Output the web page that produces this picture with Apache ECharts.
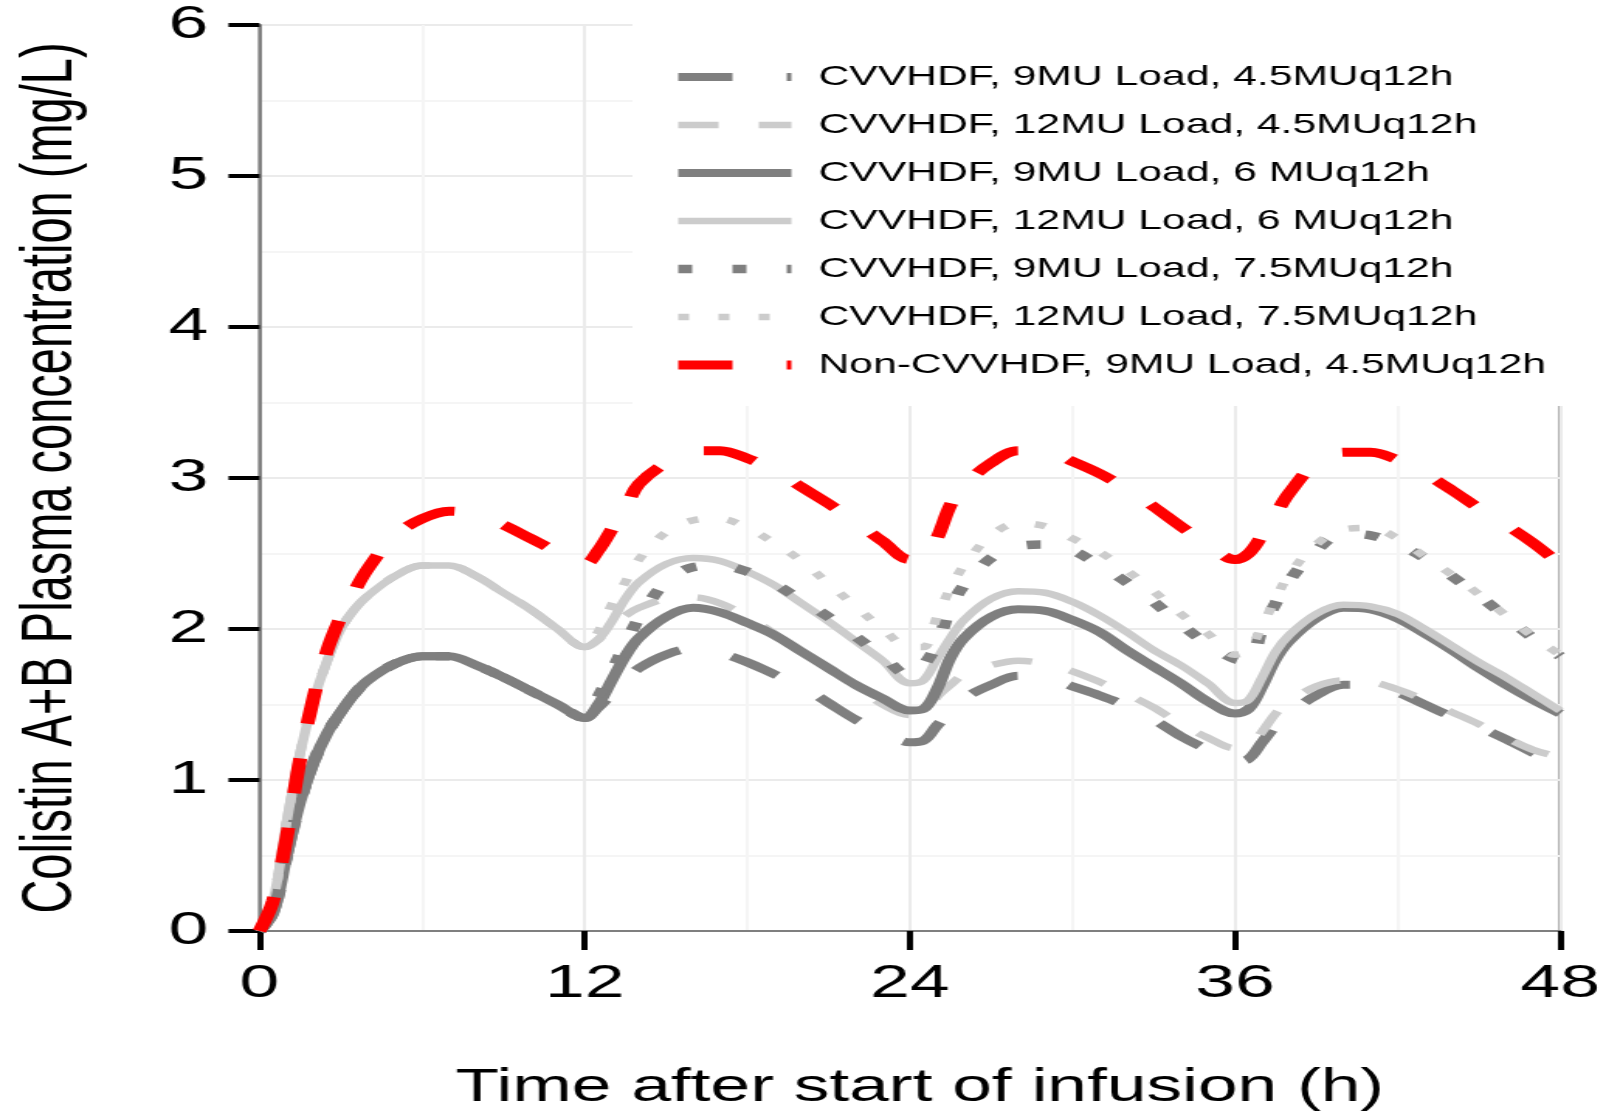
<!DOCTYPE html>
<html>
<head>
<meta charset="utf-8">
<script src="https://cdn.jsdelivr.net/npm/echarts@6/dist/echarts.min.js"></script>
<style>
  html, body { margin: 0; padding: 0; background: #fff; overflow: hidden; }
  /* the original figure is stretched sideways, so draw narrow and widen it */
  #chart { width: 1036px; height: 1116px; transform: scaleX(1.5502); transform-origin: 0 0; }
</style>
</head>
<body>
<div id="chart"></div>
<script>
// time points (h)
const hours = [0, 0.5, 1, 1.5, 2, 2.5, 3, 3.5, 4, 5, 6, 7, 8, 9, 10, 11, 12,
  12.5, 13, 13.5, 14, 15, 16, 17, 18, 19, 20, 21, 22, 23, 24,
  24.5, 25, 25.5, 26, 27, 28, 29, 30, 31, 32, 33, 34, 35, 36,
  36.5, 37, 37.5, 38, 39, 40, 41, 42, 43, 44, 45, 46, 47, 48];

// first 12 h (loading dose), shared by the regimens with the same load
const load9MU  = [0, 0.12, 0.5, 0.86, 1.12, 1.31, 1.45, 1.57, 1.66, 1.77, 1.82, 1.82, 1.76, 1.68, 1.59, 1.50, 1.41];
const load12MU = [0, 0.2, 0.72, 1.18, 1.53, 1.79, 2.0, 2.13, 2.22, 2.35, 2.42, 2.42, 2.35, 2.24, 2.13, 2.0, 1.88];
const loadNonCvvhdf = [0, 0.2, 0.62, 1.14, 1.55, 1.86, 2.08, 2.25, 2.4, 2.62, 2.73, 2.78, 2.76, 2.69, 2.6, 2.51, 2.43];

// 12.5 h .. 48 h (maintenance doses)
const cv9_45 = [1.48, 1.57, 1.66, 1.74, 1.83, 1.87, 1.84, 1.78, 1.70, 1.62, 1.51, 1.40, 1.32, 1.25,
  1.26, 1.36, 1.45, 1.54, 1.63, 1.69, 1.68, 1.62, 1.56, 1.49, 1.40, 1.29, 1.20, 1.12,
  1.14, 1.25, 1.36, 1.44, 1.56, 1.63, 1.63, 1.58, 1.50, 1.42, 1.35, 1.27, 1.18, 1.09];
const cv12_45 = [1.93, 2.02, 2.09, 2.14, 2.2, 2.21, 2.17, 2.08, 1.97, 1.84, 1.74, 1.62, 1.5, 1.43,
  1.44, 1.55, 1.63, 1.70, 1.76, 1.79, 1.77, 1.72, 1.65, 1.57, 1.48, 1.37, 1.28, 1.21,
  1.22, 1.32, 1.44, 1.52, 1.62, 1.66, 1.65, 1.6, 1.53, 1.45, 1.37, 1.28, 1.2, 1.15];
const cv9_6 = [1.50, 1.66, 1.82, 1.94, 2.08, 2.14, 2.11, 2.04, 1.96, 1.85, 1.74, 1.63, 1.54, 1.46,
  1.47, 1.6, 1.81, 1.94, 2.08, 2.13, 2.12, 2.06, 1.98, 1.86, 1.75, 1.64, 1.52, 1.44,
  1.47, 1.62, 1.8, 1.92, 2.07, 2.14, 2.13, 2.07, 1.97, 1.86, 1.74, 1.63, 1.53, 1.44];
const cv12_6 = [1.93, 2.05, 2.2, 2.31, 2.43, 2.47, 2.45, 2.38, 2.29, 2.17, 2.05, 1.92, 1.79, 1.64,
  1.66, 1.8, 1.94, 2.06, 2.2, 2.25, 2.24, 2.18, 2.09, 1.98, 1.86, 1.76, 1.64, 1.51,
  1.53, 1.68, 1.85, 1.96, 2.1, 2.16, 2.15, 2.1, 2.0, 1.89, 1.78, 1.68, 1.57, 1.46];
const cv9_75 = [1.55, 1.72, 1.9, 2.07, 2.31, 2.41, 2.42, 2.38, 2.3, 2.19, 2.08, 1.95, 1.82, 1.69,
  1.76, 1.9, 2.14, 2.29, 2.47, 2.55, 2.56, 2.52, 2.42, 2.31, 2.18, 2.03, 1.9, 1.8,
  1.79, 2.0, 2.17, 2.32, 2.52, 2.63, 2.62, 2.56, 2.47, 2.35, 2.22, 2.08, 1.94, 1.82];
const cv12_75 = [1.98, 2.16, 2.31, 2.46, 2.64, 2.72, 2.73, 2.67, 2.57, 2.45, 2.3, 2.15, 2.0, 1.88,
  1.88, 2.08, 2.27, 2.42, 2.62, 2.7, 2.68, 2.6, 2.51, 2.39, 2.25, 2.1, 1.97, 1.83,
  1.86, 2.02, 2.2, 2.36, 2.56, 2.66, 2.67, 2.6, 2.48, 2.36, 2.23, 2.09, 1.95, 1.83];
const nonCv9_45 = [2.52, 2.66, 2.8, 2.96, 3.1, 3.18, 3.18, 3.13, 3.05, 2.94, 2.83, 2.71, 2.58, 2.46,
  2.46, 2.6, 2.82, 2.95, 3.1, 3.18, 3.18, 3.11, 3.03, 2.93, 2.81, 2.68, 2.56, 2.46,
  2.5, 2.62, 2.76, 2.9, 3.1, 3.17, 3.17, 3.12, 3.03, 2.92, 2.8, 2.69, 2.57, 2.43];

const names = [
  'CVVHDF, 9MU Load, 4.5MUq12h',
  'CVVHDF, 12MU Load, 4.5MUq12h',
  'CVVHDF, 9MU Load, 6 MUq12h',
  'CVVHDF, 12MU Load, 6 MUq12h',
  'CVVHDF, 9MU Load, 7.5MUq12h',
  'CVVHDF, 12MU Load, 7.5MUq12h',
  'Non-CVVHDF, 9MU Load, 4.5MUq12h'
];
const values = [
  load9MU.concat(cv9_45),
  load12MU.concat(cv12_45),
  load9MU.concat(cv9_6),
  load12MU.concat(cv12_6),
  load9MU.concat(cv9_75),
  load12MU.concat(cv12_75),
  loadNonCvvhdf.concat(nonCv9_45)
];

const DARK = '#7f7f7f', LIGHT = '#cccccc', RED = '#ff0000';
const styles = [
  { color: DARK,  width: 8,   type: [35, 35] },
  { color: LIGHT, width: 6.5, type: [26, 26] },
  { color: DARK,  width: 8,   type: 'solid' },
  { color: LIGHT, width: 6.5, type: 'solid' },
  { color: DARK,  width: 8.5, type: [9, 26] },
  { color: LIGHT, width: 6.5, type: [7, 19] },
  { color: RED,   width: 9,   type: [35, 35] }
];

const FONT = "'Liberation Sans', Arial, sans-serif";

const chart = echarts.init(document.getElementById('chart'));
chart.setOption({
  animation: false,
  backgroundColor: '#fff',
  grid: {
    left: 167.4, right: 29.6, top: 25, bottom: 183,
    show: true, borderColor: '#7f7f7f', borderWidth: 2, backgroundColor: 'transparent'
  },
  legend: {
    orient: 'vertical',
    left: 408, top: 0,
    padding: [63, 15, 27, 25],
    backgroundColor: '#fff',
    itemWidth: 73, itemHeight: 28, itemGap: 20,
    selectedMode: false,
    itemStyle: { opacity: 0 },
    lineStyle: { width: 'inherit', type: 'inherit', color: 'inherit' },
    textStyle: { fontFamily: FONT, fontSize: 27.5, color: '#000', lineHeight: 28, padding: [0, 0, 0, 12.5] },
    data: names
  },
  xAxis: {
    type: 'value', min: 0, max: 48, interval: 12,
    name: 'Time after start of infusion (h)',
    nameLocation: 'middle', nameGap: 134,
    nameTextStyle: { fontFamily: FONT, fontSize: 46, color: '#000', padding: [0, 0, 0, 13] },
    axisLine: { lineStyle: { color: '#7f7f7f', width: 2 } },
    axisTick: { length: 19, lineStyle: { color: '#000', width: 4 } },
    axisLabel: { fontFamily: FONT, fontSize: 46, color: '#000', margin: 30 },
    splitLine: { lineStyle: { color: '#ebebeb', width: 2 } },
    minorTick: { show: false, splitNumber: 2 },
    minorSplitLine: { show: true, lineStyle: { color: '#f5f5f5', width: 2 } }
  },
  yAxis: {
    type: 'value', min: 0, max: 6, interval: 1,
    name: 'Colistin A+B Plasma concentration (mg/L)',
    nameLocation: 'middle', nameRotate: 90, nameGap: 111,
    nameTextStyle: { fontFamily: FONT, fontSize: 47, color: '#000' },
    axisLine: { show: true, lineStyle: { color: '#7f7f7f', width: 2 } },
    axisTick: { show: true, length: 20, lineStyle: { color: '#000', width: 4 } },
    axisLabel: { fontFamily: FONT, fontSize: 46, color: '#000', margin: 33 },
    splitLine: { lineStyle: { color: '#ebebeb', width: 2 } },
    minorTick: { show: false, splitNumber: 2 },
    minorSplitLine: { show: true, lineStyle: { color: '#f5f5f5', width: 2 } }
  },
  series: names.map((name, k) => ({
    name: name,
    type: 'line',
    symbol: 'none',
    smooth: 0.35,
    data: hours.map((h, i) => [h, values[k][i]]),
    itemStyle: { color: styles[k].color },
    lineStyle: { color: styles[k].color, width: styles[k].width, type: styles[k].type, cap: 'butt' }
  }))
});
</script>
</body>
</html>
